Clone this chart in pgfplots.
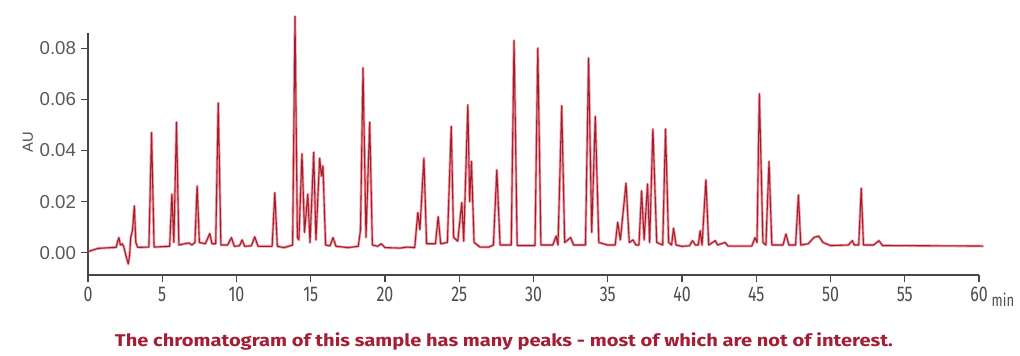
\documentclass[border=0pt]{standalone}
\usepackage{graphicx}
\usepackage{pgfplots}
\pgfplotsset{compat=1.18}
\usepackage{pgfplotstable}
\usepackage{fontspec}
\setmainfont{Liberation Sans}
\newfontfamily\tickfont[FakeStretch=0.75]{Fira Sans}
\newfontfamily\capfont{Fira Sans}
\definecolor{peak}{RGB}{225,75,90}
\definecolor{peakcore}{RGB}{165,30,45}
\definecolor{capred}{RGB}{164,30,52}
\definecolor{axgray}{RGB}{70,70,70}

\pgfplotstableread{
t v
0 0.0004
0.3 0.0010
0.7 0.0017
1.9 0.0021
2.0 0.0045
2.08 0.0059
2.18 0.0030
2.3 0.0035
2.4 0.0025
2.55 -0.0010
2.71 -0.0044
2.8 -0.0010
2.88 0.0060
3.0 0.0089
3.12 0.0183
3.22 0.0040
3.35 0.0021
4.1 0.0022
4.28 0.0470
4.45 0.0022
5.5 0.0025
5.65 0.0229
5.78 0.0040
5.96 0.0511
6.12 0.0030
6.5 0.0035
6.8 0.0038
7.0 0.0030
7.2 0.0040
7.35 0.0261
7.5 0.0040
7.9 0.0035
8.2 0.0075
8.35 0.0035
8.6 0.0035
8.77 0.0586
8.95 0.0030
9.4 0.0030
9.66 0.0059
9.85 0.0025
10.2 0.0027
10.38 0.0050
10.55 0.0025
11.0 0.0027
11.23 0.0062
11.45 0.0025
12.4 0.0025
12.58 0.0235
12.75 0.0025
13.2 0.0020
13.5 0.0025
13.78 0.0030
13.94 0.0925
14.1 0.0060
14.2 0.0050
14.41 0.0387
14.58 0.0080
14.8 0.0229
14.95 0.0040
15.2 0.0393
15.35 0.0050
15.6 0.0370
15.72 0.0300
15.82 0.0340
16.0 0.0030
16.3 0.0027
16.5 0.0059
16.7 0.0025
17.5 0.0020
18.2 0.0025
18.35 0.0089
18.52 0.0723
18.72 0.0060
18.97 0.0511
19.15 0.0030
19.5 0.0025
19.75 0.0035
20.0 0.0020
21.0 0.0018
21.5 0.0022
22.0 0.0020
22.21 0.0157
22.35 0.0090
22.62 0.0370
22.8 0.0035
23.4 0.0035
23.58 0.0141
23.75 0.0035
24.2 0.0040
24.46 0.0494
24.62 0.0060
24.9 0.0045
25.17 0.0196
25.3 0.0045
25.58 0.0579
25.7 0.0200
25.82 0.0357
26.0 0.0040
26.4 0.0022
27.0 0.0022
27.3 0.0030
27.53 0.0324
27.75 0.0030
28.5 0.0030
28.69 0.0831
28.9 0.0028
29.5 0.0028
30.1 0.0028
30.29 0.0801
30.5 0.0030
31.3 0.0030
31.52 0.0065
31.65 0.0030
31.9 0.0575
32.1 0.0040
32.5 0.0059
32.7 0.0030
33.5 0.0030
33.71 0.0762
33.92 0.0080
34.16 0.0533
34.4 0.0040
35.0 0.0030
35.5 0.0030
35.67 0.0119
35.85 0.0050
36.23 0.0272
36.45 0.0040
36.7 0.0050
36.9 0.0030
37.1 0.0030
37.28 0.0242
37.45 0.0050
37.68 0.0269
37.82 0.0040
38.04 0.0484
38.3 0.0040
38.7 0.0030
38.89 0.0484
39.1 0.0040
39.3 0.0030
39.43 0.0096
39.6 0.0030
40.0 0.0025
40.5 0.0027
40.71 0.0047
40.9 0.0030
41.1 0.0030
41.22 0.0086
41.35 0.0030
41.61 0.0285
41.8 0.0030
42.24 0.0047
42.4 0.0030
42.9 0.0040
43.1 0.0026
44.7 0.0026
44.92 0.0059
45.05 0.0040
45.21 0.0622
45.45 0.0040
45.65 0.0030
45.86 0.0357
46.05 0.0030
46.8 0.0030
47.0 0.0073
47.2 0.0030
47.65 0.0030
47.84 0.0226
48.0 0.0030
48.5 0.0035
48.9 0.0060
49.2 0.0065
49.5 0.0040
50.0 0.0028
51.2 0.0030
51.47 0.0047
51.6 0.0030
51.9 0.0030
52.07 0.0252
52.22 0.0030
52.9 0.0030
53.26 0.0047
53.5 0.0028
60.3 0.0026
}\chrom

\begin{document}
\begin{tikzpicture}[x=1pt,y=1pt]
\path[use as bounding box] (0,0) rectangle (765,267);
\begin{axis}[
  at={(66pt,60.75pt)}, anchor=south west,
  scale only axis, width=668.25pt, height=181.5pt,
  xmin=0, xmax=60, ymin=-0.00873, ymax=0.0860,
  clip=false,
  axis x line*=bottom, axis y line*=left,
  axis line style={-, draw=axgray, line width=1pt},
  tick align=outside, major tick length=5.5pt,
  tick style={draw=axgray, line width=1pt},
  xtick={0,5,...,60}, ytick={0,0.02,0.04,0.06,0.08},
  scaled y ticks=false,
  yticklabel style={/pgf/number format/fixed, /pgf/number format/fixed zerofill,
    /pgf/number format/precision=2, /pgf/number format/assume math mode=true,
    font=\fontsize{14}{15}\selectfont, text=black!65},
  xticklabel style={/pgf/number format/assume math mode=true,
    font=\tickfont\fontsize{16}{17}\selectfont, text=black!70},
  ylabel={AU},
  ylabel style={font=\fontsize{11}{12}\selectfont, text=black!70, at={(ticklabel cs:0.55)}, yshift=-2pt},
  xlabel={min},
  xlabel style={at={(rel axis cs:1,0)}, anchor=base west, xshift=6pt, yshift=-23.8pt,
    font=\tickfont\fontsize{13}{14}\selectfont, text=black!70},
]
\addplot[peak, line width=2pt, line join=round, opacity=0.55] table[x=t,y=v] {\chrom};
\addplot[peakcore, line width=0.8pt, line join=round] table[x=t,y=v] {\chrom};
\end{axis}
\node[anchor=base, text=capred, font=\capfont\bfseries\fontsize{12.75}{14}\selectfont]
  at (378,7.1) {\resizebox{583.5pt}{\height}{The chromatogram of this sample has many peaks - most of which are not of interest.}};
\end{tikzpicture}
\end{document}
